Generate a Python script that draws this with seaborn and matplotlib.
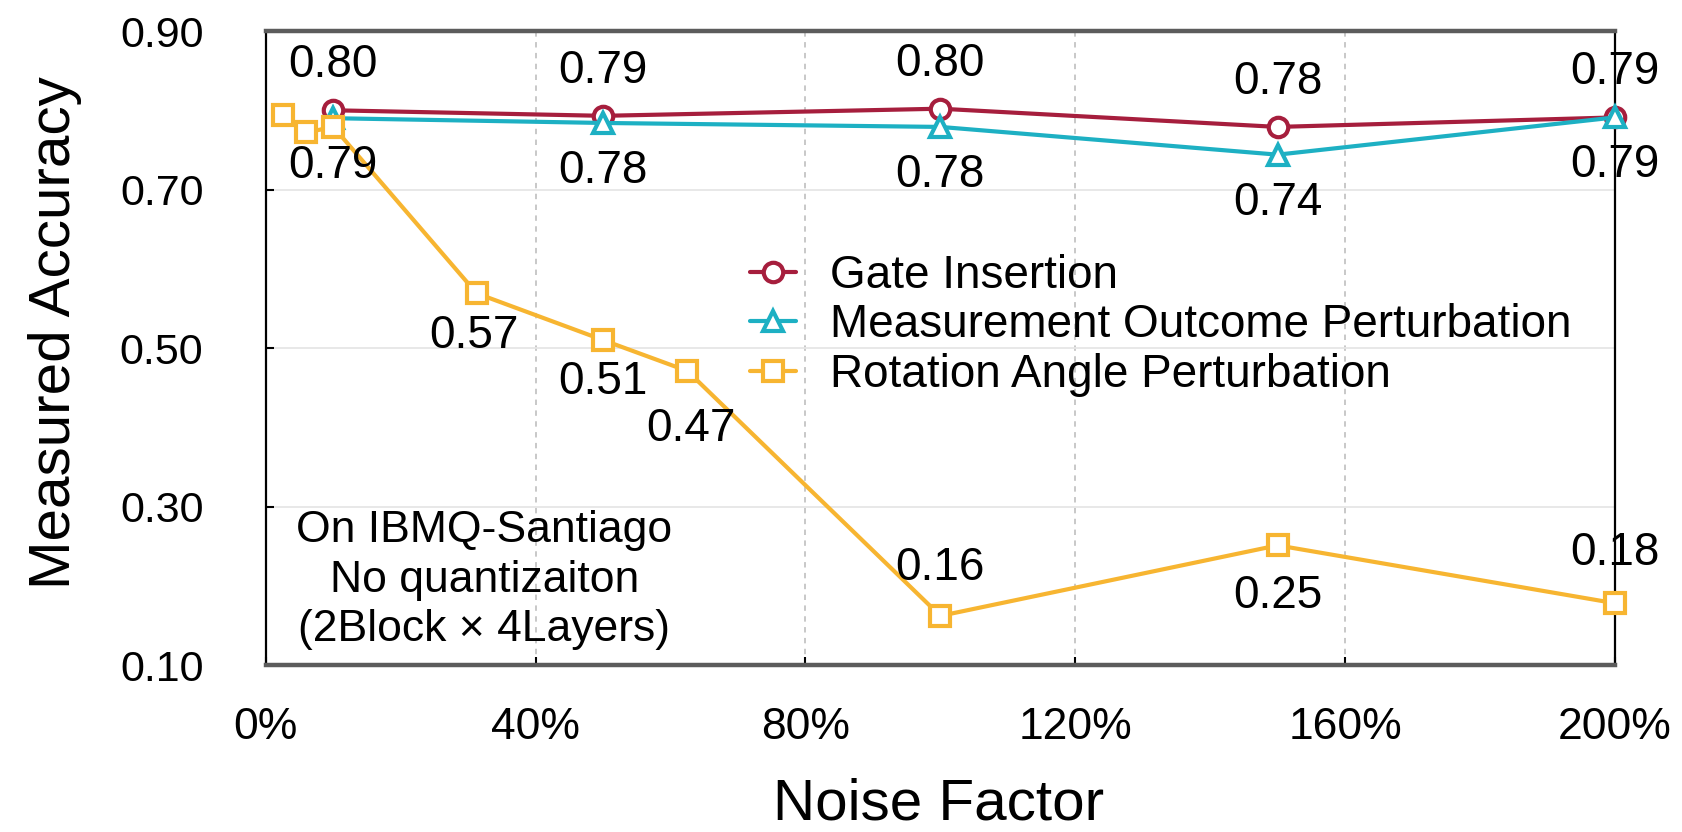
import matplotlib
matplotlib.use('Agg')
import matplotlib.pyplot as plt
import seaborn as sns

# ==========================
# data
# ==========================
noise_main = [10, 50, 100, 150, 200]
gate_acc = [0.800, 0.793, 0.802, 0.779, 0.791]
meas_acc = [0.790, 0.784, 0.779, 0.744, 0.791]

noise_rot = [2.5, 6, 10, 31.25, 50, 62.5, 100, 150, 200]
rot_acc = [0.794, 0.772, 0.779, 0.569, 0.510, 0.471, 0.162, 0.251, 0.178]
rot_labelled = [False, False, False, True, True, True, True, True, True]

series_names = ['Gate Insertion',
                'Measurement Outcome Perturbation',
                'Rotation Angle Perturbation']

x_ticks = [0, 40, 80, 120, 160, 200]
y_ticks = [0.10, 0.30, 0.50, 0.70, 0.90]

# label offsets (pixels) for value annotations
gate_dy = 45
meas_dy = -48
rot_offsets = [(0, 0), (0, 0), (0, 0), (-3, -43), (0, -42), (3, -58),
               (0, 48), (0, -51), (0, 50)]

red = '#A61E3D'
cyan = '#1DB0C3'
orange = '#F7B531'

sns.set_theme(style='white')
plt.rcParams['font.family'] = ['Liberation Sans', 'DejaVu Sans']
plt.rcParams['text.color'] = 'black'
plt.rcParams['axes.labelcolor'] = 'black'
plt.rcParams['xtick.color'] = 'black'
plt.rcParams['ytick.color'] = 'black'

fig = plt.figure(figsize=(16.83, 8.32), dpi=100)
ax = fig.add_axes([0.158, 0.2007, 0.8015, 0.762])

common = dict(linewidth=3.0, markersize=14, markeredgewidth=3.0,
              markerfacecolor='white', clip_on=False, zorder=3)
sns.lineplot(x=noise_main, y=gate_acc, ax=ax, color=red, marker='o',
             markeredgecolor=red, label=series_names[0], **common)
sns.lineplot(x=noise_main, y=meas_acc, ax=ax, color=cyan, marker='^',
             markeredgecolor=cyan, label=series_names[1], **common)
sns.lineplot(x=noise_rot, y=rot_acc, ax=ax, color=orange, marker='s',
             markeredgecolor=orange, label=series_names[2], **common)

# value labels
lab_fs = 33
for x, y in zip(noise_main, gate_acc):
    ax.annotate(f'{y:.2f}', (x, y), xytext=(0, gate_dy), textcoords='offset pixels',
                ha='center', va='center', fontsize=lab_fs, annotation_clip=False)
for x, y in zip(noise_main, meas_acc):
    ax.annotate(f'{y:.2f}', (x, y), xytext=(0, meas_dy), textcoords='offset pixels',
                ha='center', va='center', fontsize=lab_fs, annotation_clip=False)
for x, y, show, off in zip(noise_rot, rot_acc, rot_labelled, rot_offsets):
    if show:
        ax.annotate(f'{y:.2f}', (x, y), xytext=off, textcoords='offset pixels',
                    ha='center', va='center', fontsize=lab_fs, annotation_clip=False)

ax.text(0.162, 0.134, 'On IBMQ-Santiago\nNo quantizaiton\n(2Block × 4Layers)',
        transform=ax.transAxes, ha='center', va='center', fontsize=32,
        linespacing=1.27)

ax.set_xlim(0, 200)
ax.set_ylim(0.10, 0.90)
ax.set_xticks(x_ticks)
ax.set_xticklabels([f'{t}%' for t in x_ticks])
ax.set_yticks(y_ticks)
ax.set_yticklabels([f'{t:.2f}' for t in y_ticks])
ax.tick_params(axis='y', direction='in', length=6, width=1.5, pad=45,
               labelsize=31, left=True, color='black')
ax.tick_params(axis='x', direction='in', length=6, width=1.5, pad=30,
               labelsize=32, bottom=True, color='black')

ax.set_axisbelow(True)
ax.yaxis.grid(True, color='#e6e6e6', linewidth=1.3, linestyle='-')
ax.xaxis.grid(True, color='#c4c4c4', linewidth=1.3, linestyle=(0, (3, 3)))

for side in ['top', 'bottom']:
    ax.spines[side].set_color('#5c5c5c')
    ax.spines[side].set_linewidth(3.2)
for side in ['left', 'right']:
    ax.spines[side].set_color('black')
    ax.spines[side].set_linewidth(1.6)

ax.set_xlabel('Noise Factor', fontsize=42)
ax.set_ylabel('Measured Accuracy', fontsize=42)
ax.xaxis.set_label_coords(0.499, -0.178)
ax.yaxis.set_label_coords(-0.136, 0.525)

ax.legend(loc='upper left', bbox_to_anchor=(0.4456, 0.695),
          bbox_transform=fig.transFigure, frameon=False, fontsize=33,
          handlelength=1.0, handletextpad=0.75, labelspacing=0.12,
          borderpad=0, borderaxespad=0)

fig.savefig('out.png', dpi=100)
plt.close(fig)
